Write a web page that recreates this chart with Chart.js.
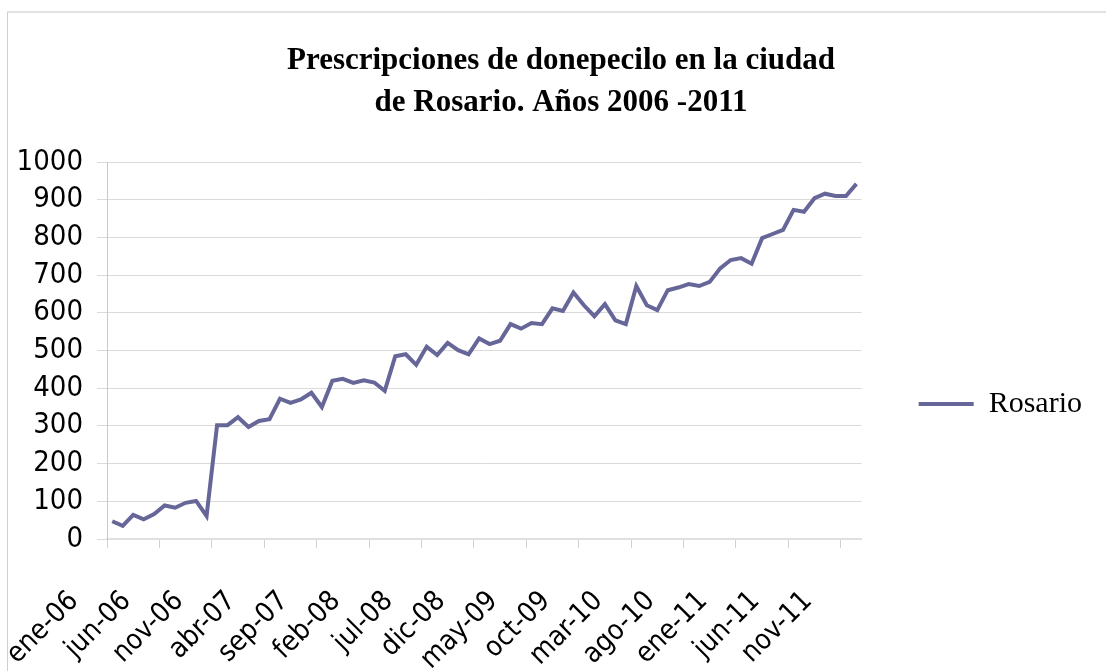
<!DOCTYPE html>
<html>
<head>
<meta charset="utf-8">
<script src="https://cdn.jsdelivr.net/npm/chart.js@4.4.1/dist/chart.umd.min.js"></script>
<style>
  html, body { margin: 0; padding: 0; background: #fff; overflow: hidden; }
  #wrap { position: relative; width: 1106px; height: 671px; }
  #frame { position: absolute; left: 7px; top: 11px; right: -4px; bottom: -4px;
           border-left: 1px solid #cfcfcf; border-top: 2px solid #e2e2e2; }
  canvas { position: absolute; left: 0; top: 0; }
</style>
</head>
<body>
<div id="wrap">
  <div id="frame"></div>
  <canvas id="chart" width="1106" height="671"></canvas>
</div>
<script>
// Month names and years used for the category axis
const months = ["ene", "feb", "mar", "abr", "may", "jun", "jul", "ago", "sep", "oct", "nov", "dic"];
const years = ["06", "07", "08", "09", "10", "11"];

// Monthly prescriptions, ene-06 .. dic-11
const rosario = [
  47, 35, 64, 52, 66, 89, 83, 96, 101, 61,
  302, 302, 323, 297, 313, 318, 372, 361, 370, 388,
  350, 420, 425, 414, 421, 415, 393, 485, 490, 462,
  510, 488, 520, 501, 490, 532, 517, 526, 570, 558,
  573, 570, 612, 605, 654, 620, 591, 623, 580, 570,
  671, 620, 607, 660, 667, 676, 671, 682, 718, 740,
  745, 730, 798, 809, 820, 873, 868, 904, 916, 910,
  910, 942
];

const yTicks = [0, 100, 200, 300, 400, 500, 600, 700, 800, 900, 1000];

const labels = [];
years.forEach((y) => {
  months.forEach((m) => labels.push(m + "-" + y));
});

const lineColor = "#666699";
const gridColor = "#dadada";

// y tick labels are clipped to the scale box; let them use the left margin
const yLabelRoom = {
  id: "yLabelRoom",
  afterLayout(chart) {
    chart.scales.y.left = 0;
  },
};

const ctx = document.getElementById("chart").getContext("2d");
const myChart = new Chart(ctx, {
  type: "line",
  data: {
    labels: labels,
    datasets: [
      {
        label: "Rosario",
        data: rosario,
        borderColor: lineColor,
        backgroundColor: lineColor,
        borderWidth: 4,
        pointRadius: 0,
        tension: 0,
      },
    ],
  },
  plugins: [yLabelRoom],
  options: {
    responsive: false,
    animation: false,
    devicePixelRatio: 1,
    layout: {
      padding: { left: 30, right: 14, top: 0, bottom: 0 },
    },
    plugins: {
      tooltip: { enabled: false },
      title: {
        display: true,
        text: ["Prescripciones de donepecilo en la ciudad", "de Rosario. Años 2006 -2011"],
        color: "#000",
        font: { family: "'Liberation Serif', serif", size: 31, weight: "bold", lineHeight: 1.355 },
        padding: { top: 40, bottom: 38 },
      },
      legend: {
        position: "right",
        title: { display: true, text: "", padding: { top: 137, bottom: 0 }, font: { size: 1, lineHeight: 0 } },
        labels: {
          color: "#000",
          font: { family: "'Liberation Serif', serif", size: 30 },
          usePointStyle: true,
          pointStyle: "line",
          boxWidth: 44,
          pointStyleWidth: 55,
          padding: 57,
        },
      },
    },
    scales: {
      x: {
        offset: true,
        grid: {
          offset: true,
          drawOnChartArea: false,
          tickLength: 9,
          color: (c) => (c.index % 5 === 0 ? "#d2d2d2" : "rgba(0,0,0,0)"),
        },
        border: { display: true, color: "#e0e0e0", width: 2 },
        ticks: {
          autoSkip: false,
          minRotation: 45,
          maxRotation: 45,
          labelOffset: -38,
          padding: 37,
          color: "#000",
          font: { family: "'DejaVu Sans Condensed', 'DejaVu Sans', sans-serif", size: 28 },
          callback: function (value, index) {
            return index % 5 === 0 ? labels[index] : "";
          },
        },
        afterFit: (scale) => {
          scale.height = 132;
        },
      },
      y: {
        min: 0,
        max: 1000,
        grid: { color: gridColor, tickLength: 10 },
        border: { display: true, color: "#c8c8c8" },
        afterBuildTicks: (scale) => {
          scale.ticks = yTicks.map((v) => ({ value: v }));
        },
        ticks: {
          autoSkip: false,
          padding: 14,
          color: "#000",
          font: { family: "'DejaVu Sans Condensed', 'DejaVu Sans', sans-serif", size: 29, lineHeight: 1 },
          callback: (value) => String(value),
        },
        afterFit: (scale) => {
          scale.width = 77;
        },
      },
    },
  },
});
</script>
</body>
</html>
